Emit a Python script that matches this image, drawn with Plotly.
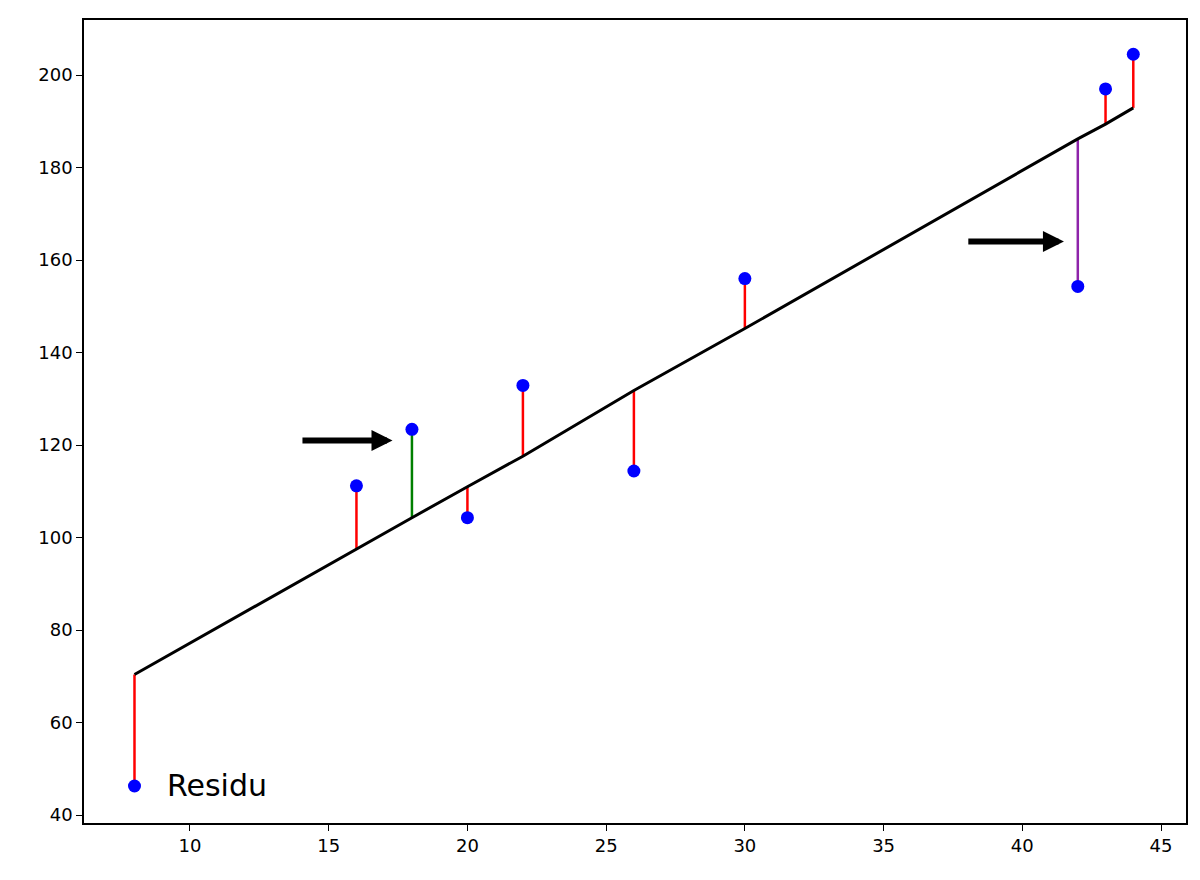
import plotly.graph_objects as go

x_vals = [8, 16, 18, 20, 22, 26, 30, 42, 43, 44]
y_vals = [46.3, 111.2, 123.4, 104.3, 132.9, 114.4, 156.0, 154.3, 197.0, 204.5]
fit_vals = [70.4, 97.6, 104.3, 111.0, 117.6, 131.8, 145.2, 186.2, 189.4, 192.9]
resid_colors = ["red", "red", "green", "red", "red", "red", "red", "#8e24aa", "red", "red"]
x_ticks = [10, 15, 20, 25, 30, 35, 40, 45]
y_ticks = [40, 60, 80, 100, 120, 140, 160, 180, 200]
arrows = [((14, 121), (17.3, 121)), ((38, 164), (41.5, 164))]

fig = go.Figure()
for xv, yv, fv, c in zip(x_vals, y_vals, fit_vals, resid_colors):
    fig.add_trace(go.Scatter(x=[xv, xv], y=[yv, fv], mode="lines",
                             line=dict(color=c, width=2.5), showlegend=False))
fig.add_trace(go.Scatter(x=x_vals, y=fit_vals, mode="lines",
                         line=dict(color="black", width=3), showlegend=False))
fig.add_trace(go.Scatter(x=x_vals, y=y_vals, mode="markers",
                         marker=dict(color="blue", size=13), showlegend=False))
for (x0, y0), (x1, y1) in arrows:
    fig.add_annotation(x=x1, y=y1, ax=x0, ay=y0, xref="x", yref="y", axref="x", ayref="y",
                       showarrow=True, arrowhead=2, arrowsize=0.7, arrowwidth=6, arrowcolor="black", text="")
fig.add_annotation(x=9.1, y=46.5, text="Residu", showarrow=False, xanchor="left",
                   font=dict(size=30, color="black"))

ax = dict(showgrid=False, zeroline=False, showline=True, linecolor="black", linewidth=1.5,
          mirror=True, ticks="outside", ticklen=6, tickcolor="black",
          tickfont=dict(size=18, color="black"))
fig.update_layout(
    width=1200, height=880, plot_bgcolor="white", paper_bgcolor="white",
    margin=dict(l=76, r=22, t=10, b=65),
    font=dict(family="DejaVu Sans"),
    xaxis=dict(range=[6.18, 45.9], tickvals=x_ticks, **ax),
    yaxis=dict(range=[38.3, 211.9], tickvals=y_ticks, **ax),
)
fig.write_html("out.html")
